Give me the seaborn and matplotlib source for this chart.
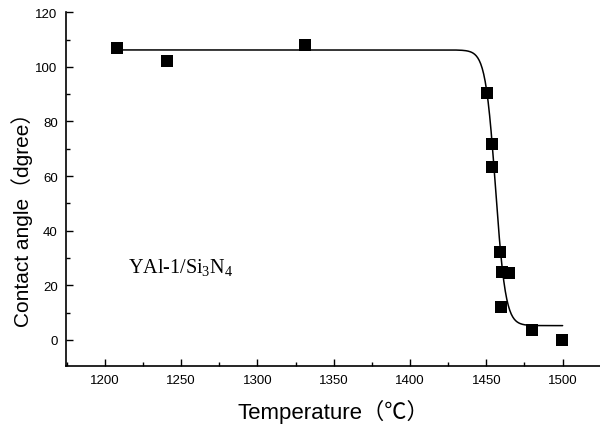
import numpy as np
import pandas as pd
import matplotlib
matplotlib.use("Agg")
import matplotlib.pyplot as plt
import seaborn as sns
from matplotlib.ticker import MultipleLocator

# Measured data
temperature = [1207.6, 1240.8, 1330.9, 1450.5, 1453.6, 1453.6, 1459.1, 1460.2, 1465.0, 1459.9, 1479.8, 1499.9]
contact_angle = [107.0, 102.1, 108.0, 90.4, 71.7, 63.4, 32.3, 25.0, 24.3, 12.2, 3.7, 0.0]

# Boltzmann fit parameters
fit_A1 = 106.2
fit_A2 = 5.2
fit_x0 = 1456.0
fit_dx = 3.3
fit_range = [1207.6, 1500.0]

x_ticks = [1200, 1250, 1300, 1350, 1400, 1450, 1500]
y_ticks = [0, 20, 40, 60, 80, 100, 120]

sns.set_theme(style="ticks")
plt.rcParams['font.family'] = ['Liberation Sans', 'Noto Sans CJK SC']
plt.rcParams['mathtext.fontset'] = 'custom'
plt.rcParams['mathtext.rm'] = 'Liberation Serif'
plt.rcParams['mathtext.it'] = 'Liberation Serif:italic'

fig = plt.figure(figsize=(6.0, 4.27), dpi=100)
ax = fig.add_axes([0.11, 0.1405, 0.89, 0.8284])

xf = np.linspace(fit_range[0], fit_range[1], 600)
yf = fit_A2 + (fit_A1 - fit_A2) / (1 + np.exp((xf - fit_x0) / fit_dx))
fit_df = pd.DataFrame({"T": xf, "angle": yf})
data_df = pd.DataFrame({"T": temperature, "angle": contact_angle})

sns.lineplot(data=fit_df, x="T", y="angle", ax=ax, color="black", linewidth=1.1, sort=False)
sns.scatterplot(data=data_df, x="T", y="angle", ax=ax, marker="s", s=70,
                color="black", edgecolor="black", linewidth=0, zorder=3)

ax.set_xlim(1174.5, 1524.5)
ax.set_ylim(-9.6, 120)
ax.set_xticks(x_ticks)
ax.set_yticks(y_ticks)
ax.xaxis.set_minor_locator(MultipleLocator(25))
ax.yaxis.set_minor_locator(MultipleLocator(10))
ax.tick_params(which="major", direction="in", length=5, width=1, labelsize=9.5,
               color="black", labelcolor="black", pad=6)
ax.tick_params(which="minor", direction="in", length=3, width=1, color="black")

for s in ["top", "right"]:
    ax.spines[s].set_visible(False)
for s in ["left", "bottom"]:
    ax.spines[s].set_color("black")
    ax.spines[s].set_linewidth(1.2)

ax.set_xlabel("Temperature（℃）", fontsize=16, color="black", labelpad=9)
ax.set_ylabel("Contact angle（dgree）", fontsize=15, color="black")
ax.yaxis.set_label_coords(-0.062, 0.43)

ax.text(1215, 24.8, r"YAl-1/Si$_3$N$_4$", fontsize=14.5, family="Liberation Serif", color="black")

fig.savefig("out.png", dpi=100)
